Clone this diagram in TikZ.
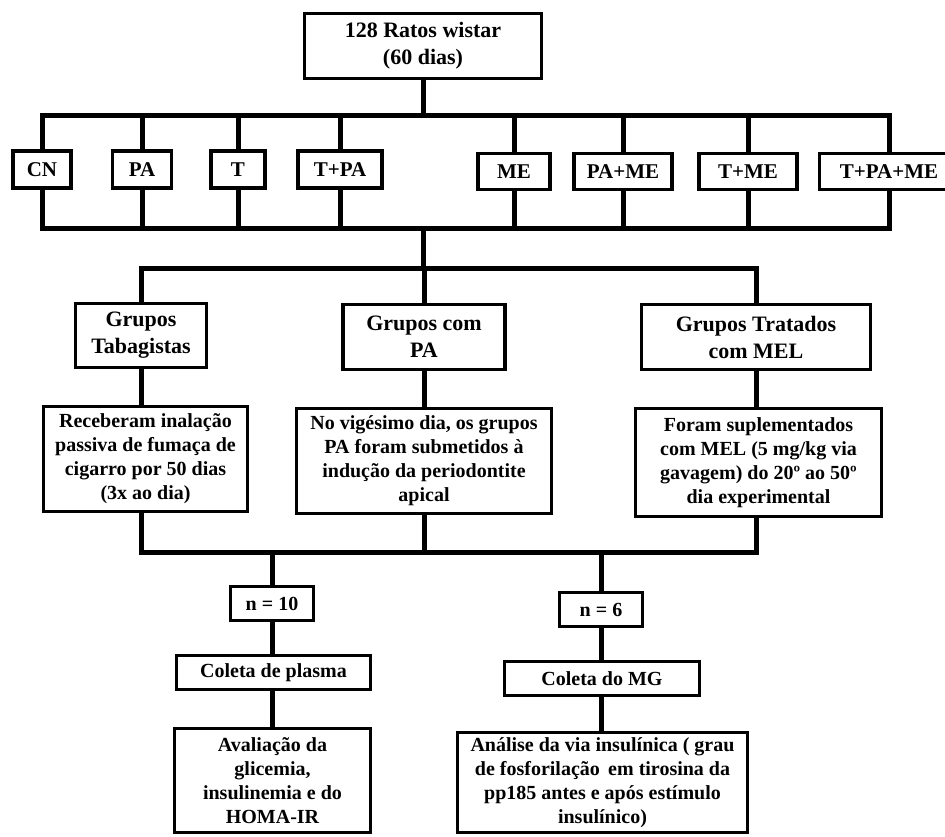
\documentclass[tikz,border=0pt]{standalone}
\usepackage{fontspec}
\setmainfont{Liberation Serif}
\usetikzlibrary{positioning, calc}
\tikzset{
    font=\bfseries,
    % Boxes
    box/.style={rectangle, draw=black, line width=3.2pt, fill=white, align=center, inner sep=2pt,
                font=\bfseries\fontsize{20}{24}\selectfont},
    title/.style={box, font=\bfseries\fontsize{22}{27}\selectfont},
    tag/.style={box, font=\bfseries\fontsize{21}{24}\selectfont},
    % Lines
    link/.style={line width=5pt, black},
    bus/.style={link, line cap=rect}
}

\begin{document}
\begin{tikzpicture}[x=1pt, y=-1pt]
\useasboundingbox (0,0) rectangle (945,836);

% bus levels
\coordinate (busTop) at (0,115);
\coordinate (busMid) at (0,228);
\coordinate (busGrp) at (0,268);
\coordinate (busEnd) at (0,552);

\node[title, minimum width=237pt, minimum height=65pt] (rats) at (423,46) {128 Ratos wistar\\(60 dias)};

% the eight groups
\node[tag, minimum width=58pt, minimum height=37pt] (cn) at (42,169.5) {CN};
\node[tag, minimum width=59pt, minimum height=37pt] (pa) at (142,169.5) {PA};
\node[tag, minimum width=54pt, minimum height=37pt] (t) at (238,169.5) {T};
\node[tag, minimum width=84pt, minimum height=37pt] (tpa) at (340,169.5) {T+PA};
\node[tag, minimum width=72pt, minimum height=36pt] (me) at (514,171.5) {ME};
\node[tag, minimum width=98pt, minimum height=36pt] (pame) at (623,171.5) {PA+ME};
\node[tag, minimum width=98pt, minimum height=36pt] (tme) at (748,171.5) {T+ME};
\node[tag, minimum width=139pt, minimum height=36pt] (tpame) at (889,171.5) {T+PA+ME};

% protocols
\node[title, minimum width=131pt, minimum height=64pt] (tab) at (141,335.5) {Grupos\\Tabagistas};
\node[title, minimum width=162pt, minimum height=65pt] (gpa) at (424,337) {Grupos com\\PA};
\node[title, minimum width=229pt, minimum height=65pt] (mel) at (756,337) {Grupos Tratados\\com MEL};

\node[box, minimum width=204pt, minimum height=105pt] (tabd) at (145.5,459) {Receberam inalação\\passiva de fumaça de\\cigarro por 50 dias\\(3x ao dia)};
\node[box, minimum width=255pt, minimum height=105pt] (gpad) at (424,461) {No vigésimo dia, os grupos\\PA foram submetidos à\\indução da periodontite\\apical};
\node[box, minimum width=246pt, minimum height=108pt] (meld) at (758.5,462.5) {Foram suplementados\\com MEL (5 mg/kg via\\gavagem) do 20º ao 50º\\dia experimental};

% analyses
\node[box, minimum width=83pt, minimum height=34pt] (n10) at (272,603.5) {n = 10};
\node[box, minimum width=83pt, minimum height=34pt] (n6) at (601,609.5) {n = 6};
\node[box, minimum width=194pt, minimum height=34pt] (plasma) at (273.5,672.5) {Coleta de plasma};
\node[box, minimum width=195pt, minimum height=34pt] (mg) at (602,678.5) {Coleta do MG};
\node[box, minimum width=196pt, minimum height=104pt] (aval) at (272.5,780.5) {Avaliação da\\glicemia,\\insulinemia e do\\HOMA-IR};
\node[box, minimum width=290pt, minimum height=100pt] (anal) at (602.5,782.5) {Análise da via insulínica ( grau\\de fosforilação\, em tirosina da\\pp185 antes e após estímulo\\insulínico)};

% connectors
\draw[link] (rats) -- (rats |- busTop);
\draw[bus] (cn |- busTop) -- (tpame |- busTop);
\draw[bus] (cn |- busMid) -- (tpame |- busMid);
\foreach \g in {cn, pa, t, tpa, me, pame, tme, tpame} {
    \draw[link] (\g |- busTop) -- (\g);
    \draw[link] (\g) -- (\g |- busMid);
}
\draw[link] (rats |- busMid) -- (rats |- busGrp);
\draw[bus] (tab |- busGrp) -- (mel |- busGrp);
\draw[bus] (tab |- busEnd) -- (mel |- busEnd);
\foreach \g/\d in {tab/tabd, gpa/gpad, mel/meld} {
    \draw[link] (\g |- busGrp) -- (\g);
    \draw[link] (\g) -- (\g |- \d.north);
    \draw[link] (\g |- \d.south) -- (\g |- busEnd);
}
\draw[link] (n10 |- busEnd) -- (n10);
\draw[link] (n10) -- (n10 |- plasma.north);
\draw[link] (n10 |- plasma.south) -- (n10 |- aval.north);
\draw[link] (n6 |- busEnd) -- (n6);
\draw[link] (n6) -- (n6 |- mg.north);
\draw[link] (n6 |- mg.south) -- (n6 |- anal.north);

\end{tikzpicture}
\end{document}
